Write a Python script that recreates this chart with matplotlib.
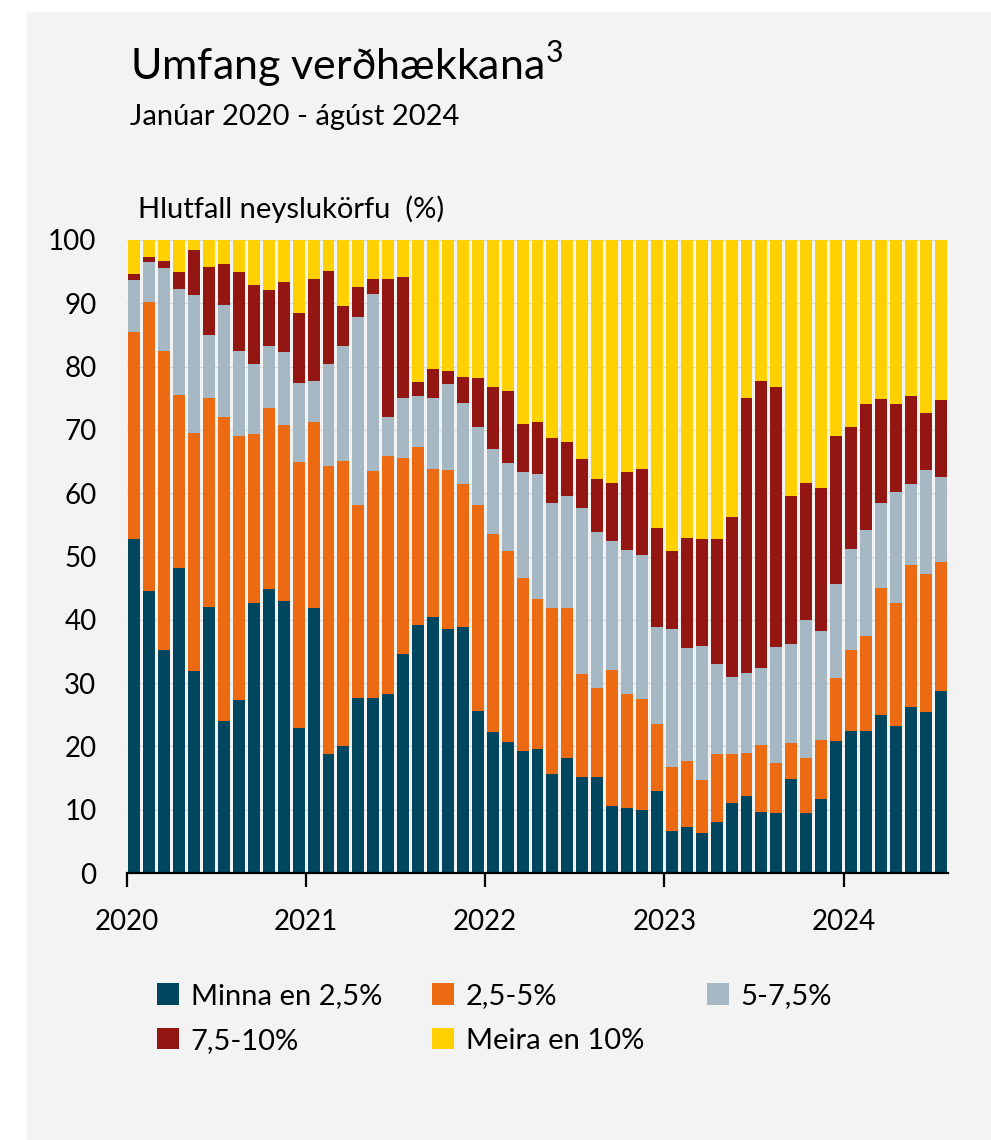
import matplotlib.pyplot as plt
from matplotlib.patches import Rectangle

plt.rcParams['font.family'] = ['Lato', 'DejaVu Sans']
plt.rcParams['mathtext.fontset'] = 'custom'
plt.rcParams['mathtext.rm'] = 'Lato'

# manaðarleg gögn, jan 2020 - júl 2024 (55 súlur)
years = ['2020', '2021', '2022', '2023', '2024']

minna_25 = [52.7, 44.5, 35.2, 48.2, 31.9, 42.1, 24.0, 27.4, 42.7, 44.9, 42.9, 22.9,
            41.9, 18.8, 20.1, 27.7, 27.7, 28.3, 34.6, 39.2, 40.4, 38.6, 38.8, 25.6,
            22.2, 20.7, 19.2, 19.6, 15.6, 18.1, 15.2, 15.1, 10.6, 10.3, 10.0, 12.9,
            6.7, 7.2, 6.3, 8.1, 11.1, 12.2, 9.6, 9.4, 14.9, 9.4, 11.7, 20.9,
            22.5, 22.5, 24.9, 23.3, 26.3, 25.4, 28.7]
bil_25_5 = [32.8, 45.7, 47.3, 27.3, 37.6, 32.9, 48.0, 41.7, 26.6, 28.5, 27.9, 42.0,
            29.4, 45.5, 45.0, 30.5, 35.8, 37.5, 31.0, 28.1, 23.5, 25.1, 22.7, 32.6,
            31.3, 30.1, 27.4, 23.7, 26.2, 23.7, 16.2, 14.2, 21.5, 18.0, 17.5, 10.7,
            10.1, 10.5, 8.4, 10.7, 7.7, 6.8, 10.7, 8.0, 5.6, 8.8, 9.3, 9.9,
            12.7, 14.9, 20.1, 19.4, 22.3, 21.8, 20.5]
bil_5_75 = [8.2, 6.3, 13.0, 16.8, 21.8, 10.0, 17.8, 13.4, 11.1, 9.8, 11.5, 12.5,
            6.4, 16.1, 18.1, 29.7, 28.0, 6.2, 9.4, 8.1, 11.1, 13.5, 12.8, 12.2,
            13.5, 13.9, 16.8, 19.8, 16.6, 17.8, 26.3, 24.5, 20.3, 22.7, 22.7, 15.2,
            21.7, 17.9, 21.2, 14.2, 12.1, 12.6, 12.1, 18.3, 15.6, 21.7, 17.2, 14.8,
            16.0, 16.8, 13.4, 17.5, 12.9, 16.5, 13.3]
bil_75_10 = [0.9, 0.8, 1.2, 2.7, 7.1, 10.7, 6.4, 12.4, 12.5, 8.9, 11.0, 11.1,
             16.1, 14.7, 6.3, 4.6, 2.3, 21.9, 19.1, 2.1, 4.6, 2.1, 4.1, 7.8,
             9.8, 11.5, 7.5, 8.1, 10.3, 8.5, 7.7, 8.5, 9.2, 12.4, 13.7, 15.7,
             12.3, 17.4, 16.8, 19.7, 25.3, 43.5, 45.3, 41.1, 23.4, 21.7, 22.7, 23.4,
             19.3, 19.9, 16.5, 13.9, 13.9, 8.9, 12.2]
meira_10 = [5.4, 2.7, 3.3, 5.0, 1.6, 4.3, 3.8, 5.1, 7.1, 7.9, 6.7, 11.5,
            6.2, 4.9, 10.5, 7.5, 6.2, 6.1, 5.9, 22.5, 20.4, 20.7, 21.6, 21.8,
            23.2, 23.8, 29.1, 28.8, 31.3, 31.9, 34.6, 37.7, 38.4, 36.6, 36.1, 45.5,
            49.2, 47.0, 47.3, 47.3, 43.8, 24.9, 22.3, 23.2, 40.5, 38.4, 39.1, 31.0,
            29.5, 25.9, 25.1, 25.9, 24.6, 27.4, 25.3]

series = [
    ('Minna en 2,5%', minna_25, '#00465f'),
    ('2,5-5%', bil_25_5, '#ec6a12'),
    ('5-7,5%', bil_5_75, '#a6b8c4'),
    ('7,5-10%', bil_75_10, '#931612'),
    ('Meira en 10%', meira_10, '#ffd100'),
]

bg = '#f3f3f3'
fig = plt.figure(figsize=(9.91, 11.40), dpi=100)
fig.patch.set_facecolor('white')
fig.patches.append(Rectangle((27 / 991, 0), 1, 1 - 12 / 1140, transform=fig.transFigure,
                             facecolor=bg, edgecolor='none', zorder=-10))

ax = fig.add_axes([127 / 991, 1 - 873 / 1140, 821 / 991, 633 / 1140])
ax.set_facecolor(bg)

x = [i + 0.5 for i in range(len(minna_25))]
bottom = [0.0] * len(x)
handles = {}
for name, vals, col in series:
    b = ax.bar(x, vals, width=0.8, bottom=bottom, color=col, label=name, zorder=2)
    handles[name] = b
    bottom = [bo + v for bo, v in zip(bottom, vals)]

ax.set_xlim(0, len(x))
ax.set_ylim(0, 100)
ax.set_yticks(range(0, 101, 10))
ax.set_xticks([0, 12, 24, 36, 48])
ax.set_xticklabels(years)
ax.yaxis.grid(True, color='#d9d9d9', linewidth=0.8, zorder=0)
ax.set_axisbelow(True)
for s in ['top', 'right', 'left']:
    ax.spines[s].set_visible(False)
ax.spines['bottom'].set_linewidth(1.6)
ax.spines['bottom'].set_zorder(3)
ax.tick_params(axis='y', length=0, pad=22, labelsize=20)
ax.tick_params(axis='x', length=10, width=1.6, pad=16, labelsize=20)

fig.text(130 / 991, 1 - 80 / 1140, 'Umfang verðhækkana$^{3}$', fontsize=31, va='baseline')
fig.text(130 / 991, 1 - 125 / 1140, 'Janúar 2020 - ágúst 2024', fontsize=21, va='baseline')
fig.text(138 / 991, 1 - 218 / 1140, 'Hlutfall neyslukörfu  (%)', fontsize=21, va='baseline')

# þrír dálkar í skýringum
cols = [(157, ['Minna en 2,5%', '7,5-10%']),
        (432, ['2,5-5%', 'Meira en 10%']),
        (707, ['5-7,5%'])]
for xpos, names in cols:
    fig.legend([handles[n] for n in names], names, loc='upper left',
               bbox_to_anchor=(xpos / 991, 1 - 983 / 1140), frameon=False, fontsize=21,
               borderpad=0, borderaxespad=0, handlelength=0.75, handleheight=0.75,
               handletextpad=0.4, labelspacing=0.65)

fig.savefig('out.png', dpi=100, facecolor=fig.get_facecolor())
